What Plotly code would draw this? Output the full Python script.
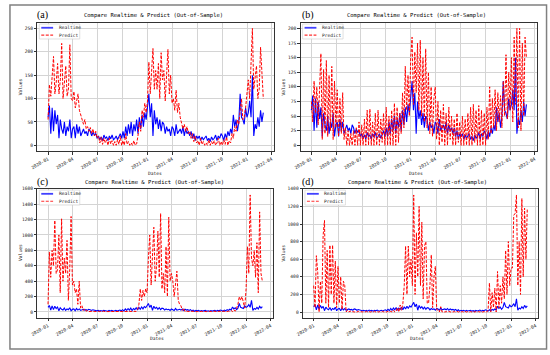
import pandas as pd
import plotly.graph_objects as go

# ---------------- data (5-day samples, 2020-01-01 .. 2022-03-01) ----------------
dates = pd.date_range("2020-01-01", "2022-03-01", freq="5D")

realtime = [
    60, 85, 25, 80, 30, 75, 45,        # 2020-01
    65, 15, 55, 35, 25,                # 2020-02
    50, 20, 40, 30, 55, 15, 35,        # 2020-03
    40, 15, 45, 25, 40, 20,            # 2020-04
    30, 35, 25, 30, 20, 35,            # 2020-05
    30, 20, 28, 22, 25, 15,            # 2020-06
    20, 12, 18, 10, 22, 15,            # 2020-07
    18, 10, 20, 14, 22, 12,            # 2020-08
    15, 20, 12, 18, 25, 15,            # 2020-09
    30, 15, 40, 20, 45, 25,            # 2020-10
    50, 20, 45, 30, 55, 25,            # 2020-11
    60, 35, 65, 40, 70, 55, 80,        # 2020-12
    110, 60, 90, 20, 75, 45,           # 2021-01
    60, 35, 55, 30, 50,                # 2021-02
    45, 25, 40, 30, 35, 20, 40,        # 2021-03
    35, 20, 45, 25, 30, 35,            # 2021-04
    25, 40, 20, 35, 25, 30,            # 2021-05
    20, 30, 15, 25, 10, 20,            # 2021-06
    15, 20, 10, 18, 12, 15,            # 2021-07
    20, 10, 15, 8, 18, 12,             # 2021-08
    15, 22, 10, 20, 15, 25,            # 2021-09
    20, 10, 25, 15, 30, 20,            # 2021-10
    35, 25, 65, 40, 55, 30,            # 2021-11
    50, 110, 60, 55, 45, 80, 60,       # 2021-12
    70, 95, 60, 150, 20, 45,           # 2022-01
    35, 60, 40, 75, 50,                # 2022-02
    70,                                # 2022-03
]

predict_a = [
    55, 130, 105, 140, 190, 110, 135,
    175, 110, 140, 218, 100,
    130, 170, 105, 120, 215, 100, 95,
    115, 80, 100, 110, 75, 65,
    60, 45, 55, 35, 40, 30,
    38, 25, 35, 20, 30, 15,
    20, 5, 18, 2, 15, 5,
    12, 0, 15, 3, 10, 0,
    8, 0, 12, 2, 20, 0,
    10, 0, 25, 2, 8, 0,
    5, 0, 10, 0, 3, 20,
    50, 30, 75, 60, 90, 70, 95,
    178, 110, 150, 207, 120, 160,
    120, 175, 100, 198, 140,
    160, 95, 140, 205, 110, 150, 90,
    100, 75, 118, 70, 90, 60,
    50, 35, 45, 30, 40, 25,
    30, 15, 25, 8, 20, 5,
    10, 0, 15, 2, 8, 0,
    5, 0, 12, 0, 8, 2,
    10, 0, 5, 15, 0, 8,
    0, 12, 2, 18, 0, 10,
    5, 25, 15, 40, 30, 55,
    45, 70, 100, 55, 60, 80, 110,
    140, 100, 165, 250, 120, 150,
    170, 100, 120, 210, 135,
    100,
]

predict_b = [
    75, 40, 110, 55, 100, 35, 95,
    157, 10, 130, 20, 145,
    15, 120, 25, 135, 10, 110, 30,
    95, 15, 80, 20, 90, 10,
    30, 0, 25, 0, 20, 0,
    25, 0, 30, 0, 40, 0,
    35, 0, 45, 0, 60, 0,
    62, 0, 40, 0, 55, 0,
    60, 0, 45, 5, 55, 0,
    65, 0, 50, 0, 60, 0,
    72, 0, 65, 5, 55, 20,
    90, 30, 135, 60, 120, 50, 150,
    185, 70, 160, 90, 175, 60,
    180, 50, 150, 40, 165,
    30, 125, 20, 100, 15, 80, 100,
    10, 75, 0, 60, 5, 70,
    0, 55, 0, 65, 10, 50,
    0, 45, 0, 55, 5, 40,
    0, 50, 0, 45, 0, 55,
    0, 65, 0, 70, 5, 60,
    0, 68, 0, 60, 0, 55,
    0, 65, 10, 100, 20, 80,
    30, 95, 25, 90, 40, 85,
    30, 110, 50, 155, 45, 125, 60,
    150, 40, 185, 70, 200, 30,
    200, 25, 175, 50, 185,
    150,
]

predict_c = [
    100, 780, 450, 800, 600, 1190, 500,
    550, 1000, 250, 1210, 400,
    700, 500, 930, 150, 550, 1240, 350,
    400, 250, 300, 100, 400, 50,
    80, 20, 40, 10, 20, 5,
    10, 5, 10, 5, 8, 5,
    10, 5, 8, 5, 10, 5,
    5, 10, 5, 8, 5, 10,
    8, 5, 10, 5, 8, 5,
    10, 5, 8, 5, 10, 5,
    5, 10, 5, 10, 8, 30,
    100, 300, 150, 280, 200, 300, 250,
    700, 1000, 350, 800, 1100, 400,
    600, 1050, 450, 1280, 300,
    500, 250, 850, 200, 1230, 400, 500,
    400, 200, 350, 530, 150, 100,
    80, 20, 50, 5, 10, 5,
    8, 5, 10, 5, 8, 5,
    5, 10, 5, 8, 5, 10,
    8, 5, 10, 5, 8, 5,
    10, 5, 8, 5, 10, 5,
    5, 10, 5, 8, 5, 10,
    10, 20, 5, 30, 10, 50,
    100, 200, 150, 200, 100, 50, 300,
    850, 500, 1520, 700, 600, 800,
    450, 900, 250, 1300, 500,
    400,
]

predict_d = [
    300, 50, 640, 450, 0, 350, 100,
    870, 1040, 100, 700, 50,
    760, 200, 760, 100, 580, 50, 520,
    100, 400, 30, 350, 300, 0,
    20, 0, 10, 0, 5, 0,
    5, 0, 8, 0, 5, 0,
    5, 0, 8, 0, 5, 0,
    5, 0, 8, 0, 5, 0,
    5, 0, 8, 0, 5, 0,
    10, 0, 8, 0, 20, 0,
    10, 50, 0, 80, 20, 100,
    300, 750, 200, 750, 400, 600, 300,
    1330, 200, 900, 400, 1200, 300,
    1020, 150, 750, 800, 100,
    100, 300, 650, 50, 400, 520, 30,
    20, 0, 60, 0, 5, 0,
    5, 0, 8, 0, 5, 0,
    5, 0, 8, 0, 5, 0,
    5, 0, 8, 0, 5, 0,
    5, 0, 8, 0, 5, 0,
    5, 0, 8, 0, 5, 0,
    0, 20, 330, 0, 220, 50,
    270, 0, 460, 50, 300, 100,
    400, 150, 700, 200, 800, 300, 500,
    500, 1100, 1120, 1330, 300, 800,
    200, 1290, 400, 1180, 600,
    1170,
]

panel_labels = ["(a)", "(b)", "(c)", "(d)"]
predicts = [predict_a, predict_b, predict_c, predict_d]
y_ranges = [[-12.5, 262.5], [-10, 210], [-77, 1602], [-67, 1402]]
y_dticks = [50, 25, 200, 200]
title_text = "Compare Realtime & Predict (Out-of-Sample)"

# ---------------- layout geometry (pixels) ----------------
W, H = 550, 355
boxes = [  # L, R, T, B
    (30.7, 270.5, 20.7, 150.0),
    (297.4, 537.0, 20.7, 150.0),
    (30.7, 269.5, 187.7, 317.7),
    (299.8, 537.8, 187.7, 317.7),
]
label_pos = [(35.5, 13.5), (304.5, 13.5), (35.5, 181.3), (304.5, 181.3)]
title_pos = [(148.5, 14.0), (415.0, 14.0), (149.0, 181.7), (416.0, 181.7)]
values_pos = [(14.0, 85.0), (280.5, 85.0), (13.5, 252.0), (280.5, 252.0)]
dates_pos = [(149.5, 172.0), (414.5, 172.0), (151.5, 338.5), (415.0, 338.5)]


def fx(x):
    return x / W


def fy(y):
    return 1 - y / H


MONO = "DejaVu Sans Mono"
fig = go.Figure()
layout = dict(
    width=W, height=H, autosize=False,
    margin=dict(l=0, r=0, t=0, b=0),
    paper_bgcolor="white", plot_bgcolor="white",
    showlegend=False,
)
annotations = []
shapes = []

x_range = ["2019-11-22 12:00", "2022-04-09 12:00"]

for i in range(4):
    n = "" if i == 0 else str(i + 1)
    L, R, T, B = boxes[i]
    fig.add_trace(go.Scatter(
        x=dates, y=realtime, mode="lines", name="Realtime",
        line=dict(color="#0000ff", width=1.1),
        xaxis="x" + n, yaxis="y" + n))
    fig.add_trace(go.Scatter(
        x=dates, y=predicts[i], mode="lines", name="Predict",
        line=dict(color="#ff0000", width=1.0, dash="3px,1.5px"),
        xaxis="x" + n, yaxis="y" + n))
    common = dict(
        showgrid=True, gridcolor="#d4d4d4", gridwidth=0.8,
        showline=True, mirror=True, linecolor="#333333", linewidth=0.8,
        ticks="outside", ticklen=2.5, tickwidth=0.7, tickcolor="#333333",
        tickfont=dict(family=MONO, size=4.6, color="#222222"),
        zeroline=False,
    )
    layout["xaxis" + n] = dict(
        domain=[fx(L), fx(R)], anchor="y" + n, type="date",
        range=x_range, tick0="2020-01-01", dtick="M3", tickformat="%Y-%m",
        tickangle=-30, **common)
    layout["yaxis" + n] = dict(
        domain=[fy(B), fy(T)], anchor="x" + n,
        range=y_ranges[i], tick0=0, dtick=y_dticks[i], **common)

    # titles and labels
    annotations.append(dict(
        x=fx(title_pos[i][0]), y=fy(title_pos[i][1]), xref="paper", yref="paper",
        text=title_text, showarrow=False, xanchor="center", yanchor="middle",
        font=dict(family=MONO, size=5.5, color="black")))
    annotations.append(dict(
        x=fx(label_pos[i][0]), y=fy(label_pos[i][1]), xref="paper", yref="paper",
        text=panel_labels[i], showarrow=False, xanchor="center", yanchor="middle",
        font=dict(family="Liberation Serif", size=10, color="black")))
    annotations.append(dict(
        x=fx(values_pos[i][0]), y=fy(values_pos[i][1]), xref="paper", yref="paper",
        text="Values", showarrow=False, textangle=-90, xanchor="center", yanchor="middle",
        font=dict(family=MONO, size=4.6, color="#222222")))
    annotations.append(dict(
        x=fx(dates_pos[i][0]), y=fy(dates_pos[i][1]), xref="paper", yref="paper",
        text="Dates", showarrow=False, xanchor="center", yanchor="middle",
        font=dict(family=MONO, size=4.6, color="#222222")))

    # legend (upper-left, matplotlib style)
    shapes.append(dict(
        type="rect", xref="paper", yref="paper",
        x0=fx(L + 2), x1=fx(L + 43), y0=fy(T + 16.5), y1=fy(T + 1.5),
        line=dict(color="#cccccc", width=0.6),
        fillcolor="rgba(255,255,255,0.85)", layer="above"))
    shapes.append(dict(
        type="line", xref="paper", yref="paper",
        x0=fx(L + 4), x1=fx(L + 16), y0=fy(T + 5.2), y1=fy(T + 5.2),
        line=dict(color="#4040ff", width=1.8), layer="above"))
    shapes.append(dict(
        type="line", xref="paper", yref="paper",
        x0=fx(L + 4), x1=fx(L + 16), y0=fy(T + 12.7), y1=fy(T + 12.7),
        line=dict(color="#ff3030", width=1.2, dash="3px,1.5px"), layer="above"))
    annotations.append(dict(
        x=fx(L + 19.5), y=fy(T + 5.2), xref="paper", yref="paper",
        text="Realtime", showarrow=False, xanchor="left", yanchor="middle",
        font=dict(family=MONO, size=4.6, color="#222222")))
    annotations.append(dict(
        x=fx(L + 19.5), y=fy(T + 12.7), xref="paper", yref="paper",
        text="Predict", showarrow=False, xanchor="left", yanchor="middle",
        font=dict(family=MONO, size=4.6, color="#222222")))

# outer frame
shapes.append(dict(
    type="rect", xref="paper", yref="paper",
    x0=fx(3), x1=fx(546.5), y0=fy(349), y1=fy(3),
    line=dict(color="#808080", width=1.5), layer="below"))

layout["annotations"] = annotations
layout["shapes"] = shapes
fig.update_layout(**layout)
fig.write_html(
    "out.html",
    config={"displayModeBar": False},
    post_script="document.body.style.margin='0';document.body.style.overflow='hidden';",
)
